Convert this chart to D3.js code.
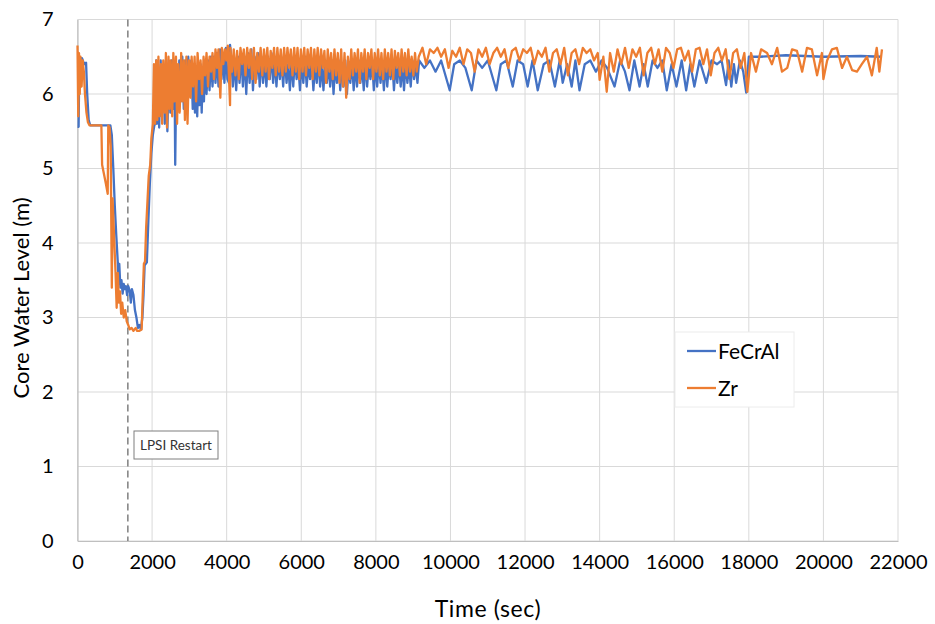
<!DOCTYPE html>
<html>
<head>
<meta charset="utf-8">
<script src="https://cdn.jsdelivr.net/npm/d3@7"></script>
<style>
  html, body { margin: 0; padding: 0; background: #fff; }
  svg { display: block; font-family: Lato, "Open Sans", sans-serif; }
</style>
</head>
<body>
<svg id="chart" width="935" height="624"></svg>
<script>
// Core water level (m) vs time (s) for two cladding materials
const fecral = [
  [0,5.56],[30,5.56],[50,6.48],[120,6.48],[180,6.4],[230,6.42],[260,6.0],[300,5.65],[340,5.58],
  [600,5.58],[880,5.58],[920,5.45],[960,5.0],[1000,4.5],[1040,4.1],[1080,3.74],[1100,3.45],
  [1120,3.72],[1150,3.4],[1180,3.5],[1210,3.32],[1240,3.45],[1270,3.38],[1300,3.42],[1330,3.3],
  [1360,3.42],[1400,3.36],[1430,3.2],[1460,3.38],[1500,3.3],[1540,3.1],[1580,3.0],[1620,2.86],
  [1660,2.9],[1700,2.84],[1740,3.0],[1770,3.3],[1800,3.7],[1860,3.74],[1900,4.3],[1940,4.8],
  [1980,5.2],[2020,5.45],[2060,5.58],[2090,5.6],[2110,6.45],[2130,5.6],[2150,6.4],[2190,5.55],
  [2230,6.45],[2260,5.7],[2300,6.35],[2340,5.6],[2380,6.45],[2410,5.5],[2450,6.4],[2490,5.75],
  [2530,6.45],[2570,5.8],[2600,6.4],[2620,5.05],[2650,6.3],[2690,5.85],[2730,6.45],[2770,5.9],
  [2810,6.5],[2850,5.8],[2890,6.45],[2930,6.0],[2970,6.5],[3010,6.0],[3050,6.45],[3090,5.8],
  [3120,6.4],[3150,5.75],[3180,6.35],[3210,5.7],[3240,6.3],[3270,5.85],[3300,6.4],[3330,5.75],
  [3360,6.3],[3390,5.9],[3420,6.4],[3460,6.0],[3500,6.45],[3540,6.05],[3580,6.5],[3620,6.1],
  [3660,6.5],[3700,6.15],[3740,6.55],[3780,6.1],[3820,6.6],[3860,6.2],[3900,6.55],[3940,6.15],
  [3980,6.62],[4020,6.2],[4060,6.15],[4090,6.66],
  [4120,6.5],[4165,6.1],[4210,6.45],[4255,6.05],[4300,6.5],[4345,6.15],[4390,6.55],[4435,6.1],
  [4480,6.5],[4525,6.0],[4570,6.55],[4615,6.15],[4660,6.6],[4705,6.05],[4750,6.5],[4795,6.2],
  [4840,6.55],[4885,6.1],[4930,6.5],[4975,6.15],[5020,6.45],[5065,6.1],[5110,6.5],[5155,6.2],
  [5200,6.55],[5245,6.15],[5290,6.45],[5335,6.1],[5380,6.5],[5425,6.2],[5470,6.45],[5515,6.1],
  [5560,6.5],[5605,6.15],[5650,6.4],[5695,6.05],[5740,6.45],[5785,6.1],[5830,6.5],[5875,6.2],
  [5920,6.4],[5965,6.05],[6010,6.45],[6055,6.15],[6100,6.5],[6145,6.1],[6190,6.4],[6235,6.2],
  [6280,6.45],[6325,6.05],[6370,6.4],[6415,6.15],[6460,6.5],[6505,6.1],[6550,6.4],[6595,6.05],
  [6640,6.45],[6685,6.15],[6730,6.4],[6775,6.1],[6820,6.45],[6865,6.0],[6910,6.4],[6955,6.15],
  [7000,6.45],[7045,6.05],[7090,6.4],[7135,6.1],[7180,6.45],[7225,6.0],[7270,6.4],[7315,6.15],
  [7360,6.45],[7405,6.05],[7450,6.4],[7495,6.1],[7540,6.45],[7585,6.15],[7630,6.4],[7675,6.05],
  [7720,6.45],[7765,6.1],[7810,6.4],[7855,6.2],[7900,6.45],[7945,6.05],[7990,6.4],[8035,6.1],
  [8080,6.45],[8125,6.15],[8170,6.4],[8215,6.05],[8260,6.45],[8305,6.1],[8350,6.4],[8395,6.2],
  [8440,6.45],[8485,6.05],[8530,6.4],[8575,6.15],[8620,6.45],[8665,6.1],[8710,6.4],[8755,6.05],
  [8800,6.45],[8845,6.15],[8890,6.4],[8935,6.1],[8980,6.45],[9025,6.2],[9070,6.4],[9115,6.15],
  [9160,6.45],[9300,6.35],[9450,6.45],[9600,6.3],
  [9750,6.45],[9980,6.05],[10100,6.4],[10250,6.45],[10400,6.35],[10570,6.05],[10700,6.45],
  [10850,6.35],[11000,6.45],[11230,6.05],[11350,6.4],[11500,6.45],[11670,6.1],[11800,6.45],
  [11950,6.4],[12070,6.1],[12200,6.45],[12340,6.05],[12500,6.4],[12650,6.45],[12800,6.1],
  [12930,6.45],[13010,6.15],[13130,6.4],[13250,6.1],[13350,6.45],[13460,6.05],[13600,6.4],
  [13750,6.45],[13900,6.3],[14050,6.45],[14200,6.35],[14400,6.1],[14550,6.45],[14680,6.3],
  [14800,6.05],[14930,6.45],[15070,6.1],[15180,6.4],[15290,6.1],[15420,6.45],[15550,6.35],
  [15680,6.45],[15800,6.05],[15930,6.4],[16060,6.1],[16200,6.45],[16320,6.05],[16430,6.4],
  [16540,6.1],[16680,6.45],[16860,6.15],[17000,6.45],[17150,6.4],[17270,6.45],[17390,6.12],
  [17460,6.45],[17530,6.1],[17600,6.4],[17660,6.15],[17760,6.45],[17850,6.3],[17930,6.02],
  [18000,6.5],[18300,6.5],[19000,6.52],[20000,6.5],[21000,6.51],[21550,6.5]
];

const zr = [
  [0,6.65],[20,5.7],[40,6.55],[60,6.0],[80,6.5],[110,6.1],[140,6.45],[170,6.3],[200,6.0],
  [240,5.75],[280,5.62],[320,5.58],[640,5.58],[660,5.05],[700,4.95],[760,4.8],[810,4.66],
  [825,5.58],[860,5.55],[890,5.3],[920,3.4],[940,4.6],[980,4.1],[1020,3.6],[1050,3.13],
  [1080,3.6],[1110,3.2],[1140,3.35],[1170,3.05],[1200,3.2],[1240,3.0],[1280,3.1],[1320,2.95],
  [1360,2.9],[1400,2.84],[1450,2.86],[1500,2.82],[1560,2.86],[1600,2.82],[1650,2.82],[1720,2.84],
  [1750,3.3],[1780,3.72],[1810,3.75],[1840,4.2],[1880,4.6],[1910,4.9],[1950,5.05],[1980,5.4],
  [2020,5.6],[2050,6.4],[2080,5.6],[2110,6.45],[2140,5.65],[2170,6.5],[2200,5.7],[2240,6.4],
  [2270,5.6],[2300,6.45],[2340,5.75],[2370,6.55],[2400,5.55],[2440,6.5],[2470,5.8],[2500,6.45],
  [2540,5.7],[2570,6.55],[2600,5.9],[2640,6.5],[2670,5.6],[2700,6.4],[2740,5.75],[2780,6.55],
  [2810,5.9],[2850,6.45],[2880,5.65],[2920,6.5],[2950,5.6],[2990,6.45],[3030,5.95],[3060,6.5],
  [3100,6.1],[3140,6.5],[3180,5.9],[3220,6.55],[3260,6.2],[3300,6.45],[3340,6.0],[3380,6.5],
  [3420,6.25],[3460,6.55],[3500,6.1],[3540,6.5],[3580,6.3],[3620,6.55],[3660,6.2],[3700,6.6],
  [3740,6.35],[3780,6.6],[3830,5.95],[3870,6.62],[3910,6.4],[3950,6.6],[3990,6.45],[4030,6.65],
  [4090,5.85],
  [4100,6.62],[4145,6.3],[4190,6.6],[4235,6.25],[4280,6.58],[4325,6.2],[4370,6.62],[4415,6.4],
  [4460,6.6],[4505,6.25],[4550,6.62],[4595,6.35],[4640,6.6],[4685,6.2],[4730,6.62],[4775,6.15],
  [4820,6.55],[4865,6.3],[4910,6.62],[4955,6.25],[5000,6.6],[5045,6.3],[5090,6.62],[5135,6.2],
  [5180,6.58],[5225,6.35],[5270,6.62],[5315,6.25],[5360,6.62],[5405,6.3],[5450,6.6],[5495,6.25],
  [5540,6.62],[5585,6.3],[5630,6.62],[5675,6.35],[5720,6.6],[5765,6.25],[5810,6.62],[5855,6.3],
  [5900,6.62],[5945,6.2],[5990,6.6],[6035,6.3],[6080,6.62],[6125,6.25],[6170,6.6],[6215,6.35],
  [6260,6.62],[6305,6.2],[6350,6.6],[6395,6.3],[6440,6.62],[6485,6.25],[6530,6.6],[6575,6.35],
  [6620,6.58],[6665,6.15],[6710,6.6],[6755,6.3],[6800,6.55],[6845,6.2],[6890,6.6],[6935,6.25],
  [6980,6.55],[7025,6.15],[7070,6.6],[7115,6.1],[7160,6.55],[7205,5.95],[7250,6.5],[7295,6.2],
  [7340,6.6],[7385,6.25],[7430,6.55],[7475,6.3],[7520,6.6],[7565,6.15],[7610,6.55],[7655,6.3],
  [7700,6.6],[7745,6.2],[7790,6.55],[7835,6.35],[7880,6.6],[7925,6.2],[7970,6.55],[8015,6.3],
  [8060,6.6],[8105,6.25],[8150,6.55],[8195,6.2],[8240,6.6],[8285,6.3],[8330,6.55],[8375,6.25],
  [8420,6.6],[8465,6.2],[8510,6.58],[8555,6.35],[8600,6.55],[8645,6.25],[8690,6.6],[8735,6.3],
  [8780,6.55],[8825,6.25],[8870,6.6],[8915,6.3],[8960,6.5],[9005,6.25],[9050,6.55],[9095,6.3],
  [9150,6.5],[9250,6.62],[9350,6.4],[9450,6.6],[9550,6.55],[9650,6.62],
  [9750,6.5],[9850,6.6],[9950,6.35],[10050,6.58],[10150,6.5],[10250,6.62],[10350,6.4],
  [10450,6.6],[10550,6.55],[10650,6.3],[10750,6.6],[10850,6.5],[10950,6.62],[11050,6.4],
  [11150,6.55],[11250,6.62],[11350,6.5],[11450,6.6],[11550,6.35],[11650,6.58],[11750,6.62],
  [11850,6.45],[11950,6.6],[12050,6.55],[12150,6.62],[12250,6.4],[12350,6.58],[12450,6.5],
  [12550,6.62],[12650,6.3],[12750,6.55],[12850,6.6],[12950,6.4],[13050,6.62],[13150,6.25],
  [13250,6.55],[13350,6.6],[13450,6.4],[13550,6.62],[13650,6.55],[13750,6.6],[13850,6.45],
  [13950,6.55],[14000,6.19],[14100,6.5],[14190,6.03],[14280,6.55],[14380,6.3],[14480,6.6],
  [14580,6.4],[14680,6.62],[14780,6.35],[14880,6.6],[14980,6.5],[15080,6.62],[15180,6.25],
  [15280,6.55],[15380,6.62],[15480,6.4],[15580,6.6],[15680,6.3],[15780,6.62],[15880,6.55],
  [15980,6.35],[16080,6.6],[16180,6.62],[16280,6.45],[16380,6.58],[16480,6.3],[16580,6.6],
  [16680,6.62],[16780,6.4],[16880,6.6],[16980,6.25],[17080,6.55],[17180,6.62],[17280,6.45],
  [17380,6.6],[17480,6.2],[17580,6.55],[17680,6.6],[17780,6.35],[17880,6.55],[17960,6.03],
  [18060,6.55],[18190,6.3],[18330,6.6],[18490,6.55],[18620,6.4],[18760,6.62],[18890,6.3],
  [19030,6.35],[19160,6.6],[19290,6.58],[19430,6.3],[19560,6.62],[19690,6.6],[19830,6.25],
  [19960,6.55],[20000,6.2],[20100,6.45],[20230,6.6],[20360,6.62],[20500,6.35],[20630,6.5],
  [20770,6.32],[20900,6.3],[21030,6.4],[21170,6.5],[21300,6.25],[21430,6.62],[21500,6.3],
  [21570,6.6]
];

const seriesNames = ["FeCrAl", "Zr"];
const seriesColors = ["#4472C4", "#ED7D31"];
const xTicks = [0,2000,4000,6000,8000,10000,12000,14000,16000,18000,20000,22000];
const yTicks = [0,1,2,3,4,5,6,7];
const restartTime = 1350;
const restartLabel = "LPSI Restart";

const svg = d3.select("#chart");
const x = d3.scaleLinear().domain([0, 22000]).range([77.5, 898]);
const y = d3.scaleLinear().domain([0, 7]).range([541, 19.5]);

// gridlines
const grid = svg.append("g");
grid.selectAll("line.v").data(xTicks).join("line")
  .attr("x1", d => x(d)).attr("x2", d => x(d))
  .attr("y1", y(0)).attr("y2", y(7))
  .attr("stroke", "#d9d9d9").attr("stroke-width", 1);
grid.selectAll("line.h").data(yTicks).join("line")
  .attr("x1", x(0)).attr("x2", x(22000))
  .attr("y1", d => y(d)).attr("y2", d => y(d))
  .attr("stroke", "#d9d9d9").attr("stroke-width", 1);

// axes
const xAxis = svg.append("g").attr("transform", `translate(0,${y(0)})`)
  .call(d3.axisBottom(x).tickValues(xTicks).tickSize(0).tickPadding(26).tickFormat(d3.format("d")));
const yAxis = svg.append("g").attr("transform", `translate(${x(0)},0)`)
  .call(d3.axisLeft(y).tickValues(yTicks).tickSize(0).tickPadding(24).tickFormat(d3.format("d")));
[xAxis, yAxis].forEach(a => {
  a.select(".domain").attr("stroke", "#bfbfbf").attr("stroke-width", 1.2);
  a.selectAll("text").attr("font-size", 20).attr("fill", "#000").attr("font-family", "Lato, sans-serif");
});
xAxis.selectAll("text").attr("dy", "0.1em");

// restart marker
svg.append("line")
  .attr("x1", x(restartTime)).attr("x2", x(restartTime))
  .attr("y1", y(7)).attr("y2", y(0))
  .attr("stroke", "#7f7f7f").attr("stroke-width", 1.5).attr("stroke-dasharray", "7,4");

// data lines
const line = d3.line().x(d => x(d[0])).y(d => y(d[1]));
[fecral, zr].forEach((s, i) => {
  svg.append("path").datum(s)
    .attr("fill", "none")
    .attr("stroke", seriesColors[i])
    .attr("stroke-width", 2.3)
    .attr("stroke-linejoin", "round")
    .attr("d", line);
});

// restart annotation
const note = svg.append("g");
note.append("rect")
  .attr("x", 134).attr("y", 431).attr("width", 84).attr("height", 28)
  .attr("fill", "#fff").attr("stroke", "#7f7f7f").attr("stroke-width", 1);
note.append("text")
  .attr("x", 176).attr("y", 450).attr("text-anchor", "middle")
  .attr("font-size", 13.5).attr("fill", "#333").text(restartLabel);

// legend
const legend = svg.append("g");
legend.append("rect")
  .attr("x", 675).attr("y", 332).attr("width", 119).attr("height", 75)
  .attr("fill", "#fff").attr("stroke", "#ececec").attr("stroke-width", 1);
seriesNames.forEach((n, i) => {
  const ly = 351 + i * 37;
  legend.append("line")
    .attr("x1", 687).attr("x2", 716).attr("y1", ly).attr("y2", ly)
    .attr("stroke", seriesColors[i]).attr("stroke-width", 2.3);
  legend.append("text")
    .attr("x", 718).attr("y", ly + 7.5)
    .attr("font-size", 21).attr("fill", "#000").text(n);
});

// axis titles
svg.append("text")
  .attr("x", 488).attr("y", 617).attr("text-anchor", "middle")
  .attr("font-size", 23).attr("letter-spacing", 0.6).attr("fill", "#000").text("Time (sec)");
svg.append("text")
  .attr("transform", "translate(29,298) rotate(-90)")
  .attr("text-anchor", "middle")
  .attr("font-size", 22).attr("fill", "#000").text("Core Water Level (m)");
</script>
</body>
</html>
